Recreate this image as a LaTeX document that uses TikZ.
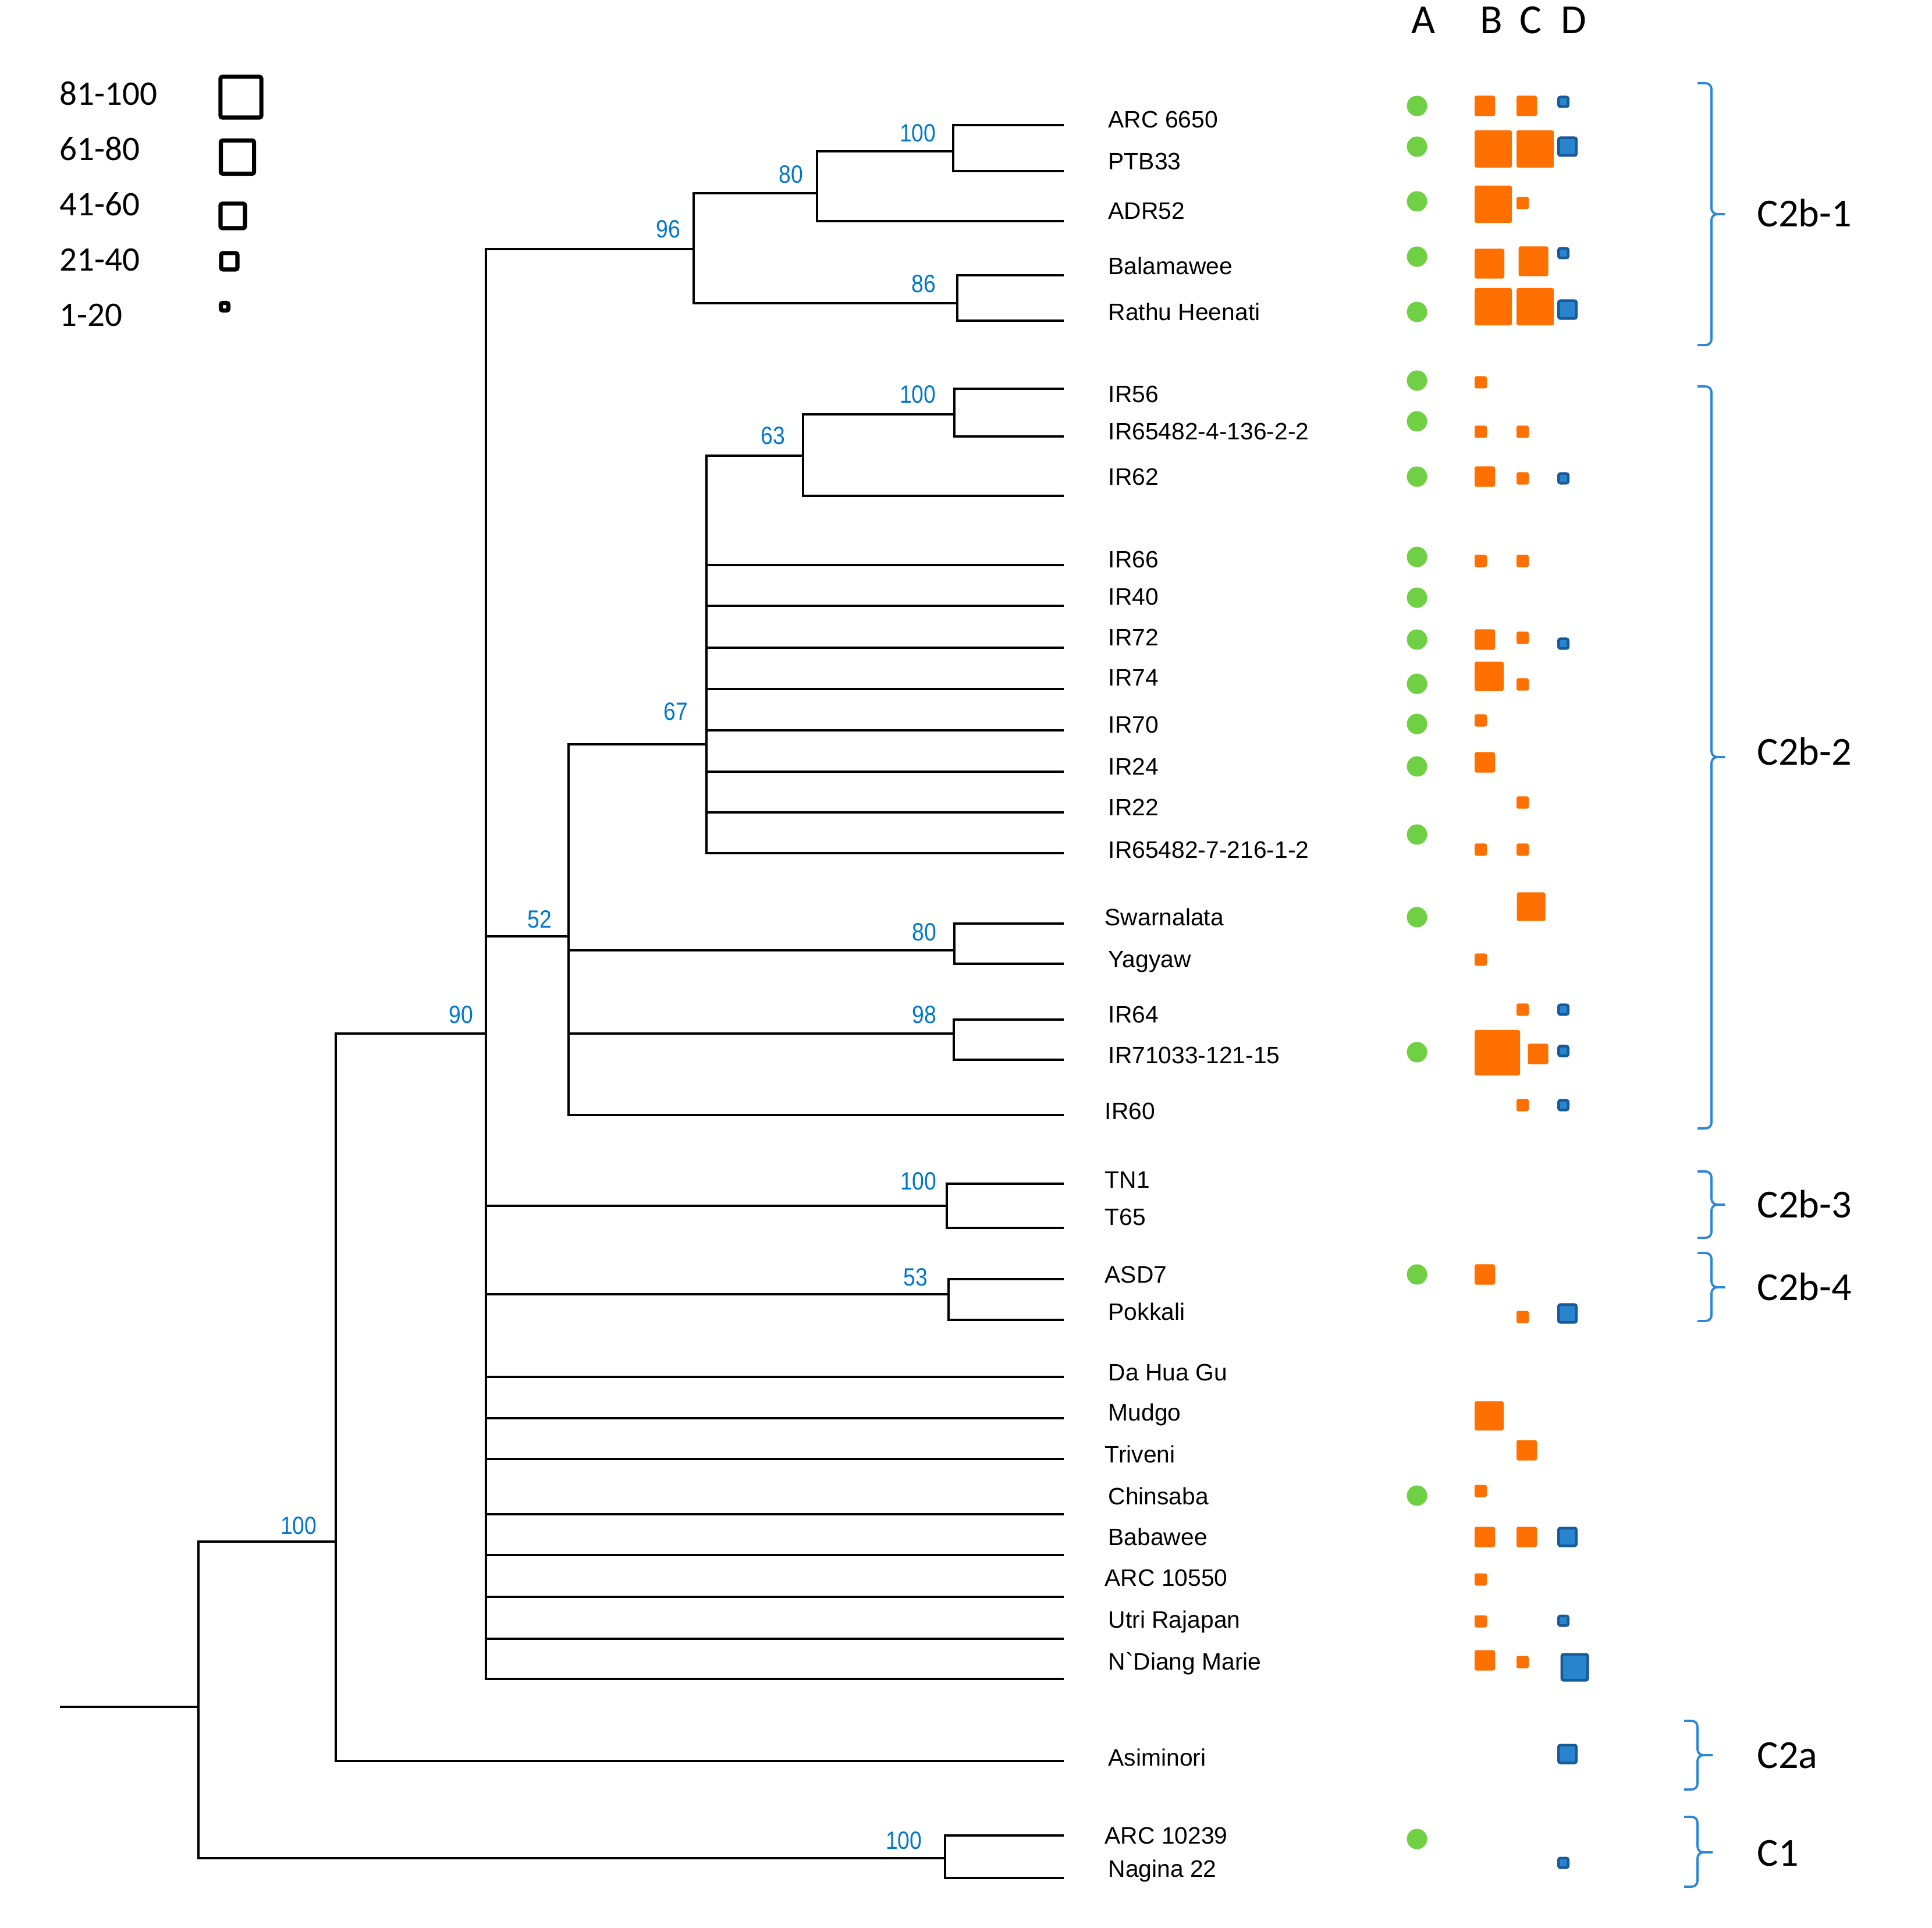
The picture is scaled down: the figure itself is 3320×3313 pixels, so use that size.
\documentclass[tikz,border=0pt]{standalone}
\usepackage{fontspec}
\setmainfont{Liberation Sans}[Ligatures=TeXOff]
\newfontfamily\calfont{Carlito}
\newfontfamily\bsfont{Liberation Sans}[FakeStretch=0.87]
\definecolor{lblue}{RGB}{0,118,206}
\definecolor{sqorange}{RGB}{255,112,0}
\definecolor{dotgreen}{RGB}{112,208,68}
\definecolor{sqblue}{RGB}{40,132,205}
\definecolor{sqdark}{RGB}{25,90,150}
\definecolor{bracec}{RGB}{45,135,215}
\begin{document}
\begin{tikzpicture}[x=0.01cm,y=-0.01cm,
  tree/.style={line width=1pt},
  leaf/.style={anchor=base west,inner sep=0pt,font=\fontsize{11.6}{13}\selectfont},
  bs/.style={anchor=base east,inner sep=0pt,text=lblue,font=\bsfont\fontsize{12.2}{14}\selectfont},
  leg/.style={anchor=base west,inner sep=0pt,font=\calfont\fontsize{16.8}{18}\selectfont},
  hdr/.style={anchor=base,inner sep=0pt,font=\calfont\fontsize{20.2}{22}\selectfont},
  clade/.style={anchor=base west,inner sep=0pt,font=\calfont\fontsize{19.4}{21}\selectfont},
  legsq/.style={draw=black,line width=2pt,rounded corners=0.03cm,inner sep=0pt},
  osq/.style={fill=sqorange,rounded corners=0.03cm,inner sep=0pt},
  bsq/.style={fill=sqblue,draw=sqdark,line width=0.045cm,rounded corners=0.03cm,inner sep=0pt},
  gdot/.style={circle,fill=dotgreen,inner sep=0pt,minimum size=0.35cm},
  brace/.style={draw=bracec,line width=1.1pt,rounded corners=0.1cm}
]
\useasboundingbox (0,0) rectangle (3320,3313);

% ---------- internal nodes ----------
\coordinate (rootL) at (103,2933);
\coordinate (nR) at (341,2933);
\coordinate (nA) at (577,2649);
\coordinate (nC1) at (1624,3193);
\coordinate (n90) at (835,1776);
\coordinate (n96) at (1192,428);
\coordinate (n80a) at (1404,332);
\coordinate (n100a) at (1638,260);
\coordinate (n86) at (1645,521);
\coordinate (n52) at (977,1609);
\coordinate (n67) at (1214,1279);
\coordinate (n63) at (1380,783);
\coordinate (n100b) at (1640,712);
\coordinate (n80b) at (1640,1633);
\coordinate (n98) at (1639,1776);
\coordinate (nTN) at (1627,2072);
\coordinate (nASD) at (1630,2224);

% ---------- leaves ----------
\foreach \i/\y/\ty/\x/\txt in {
 1/215/205/1904/ARC 6650,
 2/294/277/1904/PTB33,
 3/380/362/1904/ADR52,
 4/473/457/1904/Balamawee,
 5/551/536/1904/Rathu Heenati,
 6/668/677/1904/IR56,
 7/750/741/1904/IR65482-4-136-2-2,
 8/852/819/1904/IR62,
 9/971/961/1904/IR66,
 10/1041/1025/1904/IR40,
 11/1113/1095/1904/IR72,
 12/1184/1164/1904/IR74,
 13/1255/1245/1904/IR70,
 14/1326/1317/1904/IR24,
 15/1396/1387/1904/IR22,
 16/1466/1459/1904/IR65482-7-216-1-2,
 17/1587/1575/1898/Swarnalata,
 18/1656/1647/1904/Yagyaw,
 19/1752/1742/1904/IR64,
 20/1821/1812/1904/IR71033-121-15,
 21/1916/1908/1898/IR60,
 22/2034/2026/1898/TN1,
 23/2110/2090/1898/T65,
 24/2198/2189/1898/ASD7,
 25/2268/2253/1904/Pokkali,
 26/2366/2357/1904/Da Hua Gu,
 27/2437/2426/1904/Mudgo,
 28/2507/2498/1898/Triveni,
 29/2602/2570/1904/Chinsaba,
 30/2672/2640/1904/Babawee,
 31/2744/2710/1898/ARC 10550,
 32/2816/2782/1904/Utri Rajapan,
 33/2885/2854/1904/N`Diang Marie,
 34/3026/3019/1904/Asiminori,
 35/3154/3153/1898/ARC 10239,
 36/3227/3210/1904/Nagina 22}{
  \coordinate (t\i) at (1828,\y);
  \node[leaf] (l\i) at (\x,\ty+15) {\txt};
}

% ---------- branches ----------
\draw[line width=1.4pt] (rootL) -- (nR);
\foreach \p/\c in {nR/nA,nR/nC1,nA/n90,n90/n96,n90/n52,n90/nTN,n90/nASD,
  n96/n80a,n96/n86,n80a/n100a,n52/n67,n52/n80b,n52/n98,n67/n63,n63/n100b,
  n100a/t1,n100a/t2,n80a/t3,n86/t4,n86/t5,n100b/t6,n100b/t7,n63/t8,
  n67/t9,n67/t10,n67/t11,n67/t12,n67/t13,n67/t14,n67/t15,n67/t16,
  n80b/t17,n80b/t18,n98/t19,n98/t20,n52/t21,nTN/t22,nTN/t23,nASD/t24,nASD/t25,
  n90/t26,n90/t27,n90/t28,n90/t29,n90/t30,n90/t31,n90/t32,n90/t33,
  nA/t34,nC1/t35,nC1/t36}{
  \draw[tree] (\p) |- (\c);
}

% ---------- bootstrap values ----------
\node[bs] (b1) at (1609,244) {100};
\node[bs] (b2) at (1381,315) {80};
\node[bs] (b3) at (1170,409) {96};
\node[bs] (b4) at (1609,503) {86};
\node[bs] (b5) at (1609,693) {100};
\node[bs] (b6) at (1350,764) {63};
\node[bs] (b7) at (1183,1238) {67};
\node[bs] (b8) at (949,1594) {52};
\node[bs] (b9) at (1610,1616) {80};
\node[bs] (b10) at (1610,1758) {98};
\node[bs] (b11) at (814,1758) {90};
\node[bs] (b12) at (1610,2044) {100};
\node[bs] (b13) at (1595,2209) {53};
\node[bs] (b14) at (545,2636) {100};
\node[bs] (b15) at (1585,3177) {100};

% ---------- legend ----------
\node[leg] (g1) at (102,181) {81-100};
\node[leg] (g2) at (102,276) {61-80};
\node[leg] (g3) at (102,371) {41-60};
\node[leg] (g4) at (102,466) {21-40};
\node[leg] (g5) at (102,561) {1-20};
\node[legsq,minimum size=70*0.1mm] (s1) at (414,167) {};
\node[legsq,minimum size=57*0.1mm] (s2) at (408,270) {};
\node[legsq,minimum size=42*0.1mm] (s3) at (400,371) {};
\node[legsq,minimum size=28*0.1mm] (s4) at (394,449) {};
\node[legsq,minimum size=13*0.1mm] (s5) at (386,527) {};

% ---------- column headers ----------
\node[hdr] (hA) at (2446,58) {A};
\node[hdr] (hB) at (2563,58) {B};
\node[hdr] (hC) at (2630,58) {C};
\node[hdr] (hD) at (2704,58) {D};

% ---------- green dots (A) ----------
\foreach \y [count=\k] in {182,252,346,441,536,654,724,819,957,1027,1099,1175,1244,1317,1434,1576,1808,2190,2570,3160}{
  \node[gdot] (a\k) at (2435,\y) {};
}

% ---------- orange squares (B, C) ----------
\foreach \x/\y/\s [count=\k] in {
 2551.5/182/35, 2566/256/64, 2566/351/64, 2559.5/453/51, 2566/527/64,
 2544.5/657/21, 2544.5/742/21, 2551.5/819/35, 2544.5/964/21, 2551.5/1099/35,
 2559/1162/50, 2544.5/1238/21, 2551.5/1310/35, 2544.5/1460/21, 2544.5/1649/21,
 2573/1809/78, 2551.5/2190/35, 2559/2433/50, 2544.5/2562/21, 2551.5/2641/35,
 2544.5/2714/21, 2544.5/2786/21, 2551.5/2853/35,
 2623.5/182/35, 2638/256/64, 2616.5/349/21, 2635/449/51, 2638/527/64,
 2616.5/742/21, 2616.5/822/21, 2616.5/964/21, 2616.5/1096/21, 2616.5/1176/21,
 2616.5/1379/21, 2616.5/1460/21, 2631/1558/49, 2616.5/1735/21, 2643/1811/35,
 2616.5/1899/21, 2616.5/2263/21, 2623.5/2492/35, 2623.5/2641/35, 2616.5/2856/21}{
  \node[osq,minimum size=\s*0.1mm] (o\k) at (\x,\y) {};
}

% ---------- blue squares (D) ----------
\foreach \x/\y/\s [count=\k] in {
 2686.5/175/21, 2693.5/252/35, 2686.5/435/21, 2693.5/532/35, 2686.5/822/21,
 2686.5/1106/21, 2686.5/1735/21, 2686.5/1806/21, 2686.5/1899/21, 2693.5/2257/35,
 2693.5/2641/35, 2686.5/2785/21, 2706/2865/49, 2693.5/3014/35, 2686.5/3201/21}{
  \node[bsq,minimum size={(\s-4.5)*0.1mm}] (d\k) at (\x,\y) {};
}

% ---------- clade braces ----------
\foreach \xl/\x/\xr/\top/\tip/\bot in {
 2917/2941/2964/143/368/593,
 2917/2941/2964/664/1301/1939,
 2917/2941/2964/2013/2070/2127,
 2917/2941/2964/2153/2212/2270,
 2894/2917/2943/2957/3016/3075,
 2894/2917/2943/3122/3183/3242}{
  \draw[brace] (\xl,\top) -- (\x,\top) -- (\x,\tip) -- (\xr,\tip);
  \draw[brace] (\xl,\bot) -- (\x,\bot) -- (\x,\tip) -- (\xr,\tip);
}
\node[clade] (c1) at (3019,390) {C2b-1};
\node[clade] (c2) at (3019,1314) {C2b-2};
\node[clade] (c3) at (3019,2092) {C2b-3};
\node[clade] (c4) at (3019,2234) {C2b-4};
\node[clade] (c5) at (3019,3038) {C2a};
\node[clade] (c6) at (3019,3206) {C1};
\end{tikzpicture}
\end{document}
